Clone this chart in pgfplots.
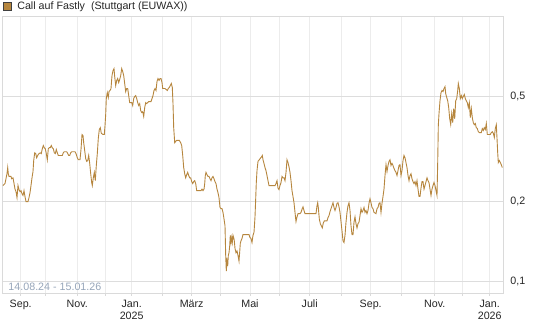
\documentclass[border=0pt]{standalone}
\usepackage{pgfplots}
\pgfplotsset{compat=1.18}
\usepackage{fontspec}
\setmainfont{Liberation Sans}
\definecolor{linec}{RGB}{182,134,62}
\definecolor{framec}{RGB}{218,218,218}
\definecolor{gridx}{RGB}{236,236,236}
\definecolor{gridy}{RGB}{221,221,221}
\definecolor{datec}{RGB}{150,165,185}
\begin{document}
\begin{tikzpicture}
\begin{axis}[
  at={(0,0)}, anchor=south west,
  scale only axis, width=501pt, height=277pt,
  xmin=2.3, xmax=503.3,
  ymode=log, ymin=0.0901, ymax=1.009,
  axis line style={framec, line width=1pt},
  font=\fontsize{10.7}{12.5}\selectfont,
  xtick={20.7,45.7,77.3,105.3,131.7,162.3,191.7,220.7,250,279.3,309.7,341.7,370.7,401.7,434.7,462.7,489.7},
  xticklabels={Sep.,,Nov.,,{Jan.\\2025},,März,,Mai,,Juli,,Sep.,,Nov.,,{Jan.\\2026}},
  xticklabel style={align=center, text=black!85, yshift=-1pt},
  xtick pos=bottom, tick align=outside,
  major tick length=2.5pt,
  xtick style={framec, line width=1pt},
  ytick={0.1,0.2,0.5},
  yticklabels={{0,1},{0,2},{0,5}},
  yticklabel pos=right,
  yticklabel style={text=black!85, xshift=1pt},
  ytick style={draw=none},
  yminorticks=false,
  xmajorgrids, ymajorgrids,
  x grid style={gridx, line width=1pt},
  y grid style={gridy, line width=1pt},
  legend style={at={(axis description cs:0,1)}, anchor=south west, draw=none, fill=none,
    inner sep=0pt, outer sep=0pt, xshift=0.8pt, yshift=3pt, column sep=3.5pt,
    font=\fontsize{10.7}{12.5}\selectfont, text=black!85},
  legend image code/.code={\draw[fill=linec, draw=black!75, line width=0.7pt] (0pt,-4pt) rectangle (8pt,4pt);},
]
\addplot[linec, line width=0.9pt] table {
x y
3 0.230
5 0.234
7 0.255
7.7 0.269
8.3 0.255
9 0.249
11 0.249
11.7 0.244
13 0.246
13.7 0.238
15 0.223
16 0.218
17 0.207
18 0.230
19 0.222
20 0.218
21 0.220
22 0.214
23 0.211
24 0.220
25 0.209
26 0.200
28 0.200
29 0.207
30 0.216
31 0.230
32 0.246
33 0.260
33.7 0.286
34.7 0.306
35.7 0.304
36.7 0.293
37.7 0.299
39 0.304
40.3 0.306
41.3 0.304
42.3 0.317
43.3 0.326
44.3 0.320
45.3 0.317
46.3 0.304
47.3 0.288
48.3 0.317
49.3 0.320
50.3 0.320
51.3 0.326
52.3 0.320
53.3 0.317
54.3 0.306
55.3 0.304
56.3 0.315
57.3 0.306
58.3 0.299
62.3 0.299
63.3 0.306
64.3 0.309
66.7 0.309
67.7 0.304
68.7 0.299
69.7 0.299
70.7 0.306
71.7 0.309
75 0.309
76 0.304
77.3 0.293
78.3 0.288
80 0.288
81 0.315
82 0.359
83 0.356
83.7 0.334
84.7 0.312
85.7 0.291
86.7 0.284
87.7 0.286
88.7 0.299
89.7 0.279
90.7 0.255
91.7 0.236
92.3 0.230
93.3 0.246
94.3 0.258
95.3 0.240
96.3 0.274
97.3 0.304
98.3 0.347
99.3 0.375
100.3 0.381
101.3 0.363
103 0.359
104.3 0.359
105 0.388
105.7 0.428
106.3 0.491
107.3 0.517
108.3 0.496
109 0.522
110 0.527
111 0.536
112 0.600
113 0.627
114 0.638
114.7 0.595
115.7 0.550
116.7 0.575
117.7 0.585
118.7 0.565
119.7 0.580
120.7 0.600
121.7 0.638
122.7 0.622
123.7 0.600
124.7 0.560
125.7 0.522
126.7 0.536
127.7 0.536
128.7 0.504
129.7 0.474
130.7 0.474
131.7 0.474
132.7 0.462
133.7 0.491
134.7 0.500
135.7 0.504
136.7 0.491
137.7 0.474
138.7 0.462
139.7 0.470
140.7 0.442
141.7 0.435
142.7 0.438
143.7 0.420
144.7 0.454
145.7 0.474
146.7 0.470
148.7 0.478
151 0.478
152 0.491
153 0.504
154 0.527
155 0.536
156 0.527
157 0.570
158 0.585
159 0.575
160 0.585
161 0.585
162 0.565
162.7 0.536
164 0.536
165 0.536
166.3 0.531
167.3 0.527
168.3 0.536
169.3 0.541
170.3 0.550
171.3 0.560
172.3 0.541
173 0.470
173.7 0.381
174.7 0.334
175.7 0.338
176.7 0.341
179.3 0.341
180.7 0.334
181.7 0.326
182.7 0.299
183.7 0.269
184.7 0.255
185.7 0.246
186.7 0.253
187.7 0.258
188.7 0.251
189.7 0.246
190.7 0.246
191.7 0.238
192.7 0.234
193.7 0.238
194.7 0.240
195.7 0.234
196.7 0.220
200 0.220
201 0.220
202 0.223
203 0.220
204 0.223
204.7 0.234
205.3 0.251
206 0.258
207 0.253
208 0.249
209 0.249
210 0.244
211 0.240
212 0.246
213 0.249
214 0.244
215 0.238
216 0.234
217 0.223
218 0.216
219 0.207
220 0.190
221 0.188
222 0.188
223 0.182
224 0.172
225 0.162
225.7 0.125
226.3 0.109
227 0.119
227.7 0.114
228.3 0.125
229 0.128
229.7 0.136
230.3 0.149
231 0.140
231.7 0.146
232.3 0.140
233 0.149
233.7 0.146
234.3 0.142
235 0.133
236 0.128
237 0.130
238 0.125
239 0.119
239.7 0.129
240.3 0.139
241 0.142
242 0.145
243 0.150
249 0.150
250 0.146
251 0.145
252 0.140
253 0.149
254 0.153
255 0.175
255.7 0.205
256.3 0.236
257 0.262
258 0.284
259.3 0.288
260.7 0.293
261.7 0.296
262.3 0.299
263 0.288
264 0.279
265 0.269
266 0.262
267 0.251
268 0.240
269 0.230
275 0.230
276 0.234
277 0.240
278 0.225
279 0.222
280 0.230
281 0.236
282 0.249
283 0.246
284 0.246
285 0.240
286 0.258
287 0.288
288 0.281
289 0.271
290 0.258
291 0.240
292 0.220
293 0.209
294 0.198
295 0.182
296 0.168
297 0.175
298 0.180
300 0.180
301 0.182
302 0.187
303 0.191
304 0.185
305 0.180
316 0.180
317 0.193
317.7 0.198
318.3 0.190
319.3 0.172
320.3 0.165
321.3 0.162
322.3 0.159
323.3 0.166
324.3 0.169
327 0.169
328 0.174
329 0.177
330 0.183
331 0.188
332 0.193
333 0.198
334 0.190
335 0.185
336 0.190
337 0.197
338 0.198
339 0.191
340 0.182
341 0.168
342 0.155
343 0.142
344 0.140
345 0.149
346 0.167
347 0.182
348 0.193
349 0.198
350 0.185
351 0.162
352 0.150
353 0.150
354 0.167
355 0.175
356 0.165
357 0.159
358 0.165
359 0.167
360 0.177
361 0.188
362 0.182
363 0.185
364 0.190
365 0.182
366 0.185
367 0.180
368 0.185
369 0.197
370 0.205
371 0.198
372 0.190
373 0.188
374 0.182
376 0.180
377 0.188
378 0.190
379 0.197
380 0.198
381 0.182
382 0.197
383 0.209
384 0.223
385 0.251
386 0.276
387 0.260
388 0.274
389 0.284
390 0.288
391 0.274
392 0.279
393 0.274
394 0.267
395 0.262
396 0.258
397 0.251
398 0.262
399 0.274
400 0.276
401 0.251
402 0.262
403 0.286
404 0.299
405 0.293
406 0.281
407 0.269
408 0.251
409 0.240
410 0.251
411 0.255
412 0.244
413 0.238
414 0.234
415 0.238
416 0.230
417 0.240
418 0.223
419 0.209
420 0.209
421 0.225
422 0.238
423 0.238
424 0.223
425 0.230
426 0.238
427 0.246
428 0.240
429 0.236
430 0.223
431 0.211
432 0.223
433 0.230
434 0.236
435 0.230
436 0.220
437 0.211
437.7 0.281
438.3 0.388
439 0.431
440 0.482
441 0.517
442 0.527
443 0.522
444 0.536
445 0.545
445.7 0.513
446.7 0.496
447.7 0.482
448.7 0.454
449.7 0.412
450.7 0.392
451.7 0.431
452.7 0.398
453.7 0.450
454.7 0.412
455.7 0.482
456.7 0.491
457.7 0.527
458.3 0.560
459.3 0.536
460.3 0.491
461.3 0.504
462.3 0.491
463.3 0.500
464.3 0.509
465.3 0.491
466.3 0.482
467.3 0.474
468.3 0.454
469.3 0.474
470.3 0.416
471.3 0.450
472.3 0.416
473.3 0.398
474.3 0.391
475.3 0.395
476.3 0.381
477.3 0.378
478.3 0.368
479.3 0.365
481.3 0.365
482.3 0.378
483.3 0.372
484.3 0.381
485.3 0.375
486.3 0.395
487.3 0.359
490.3 0.359
491.3 0.365
492.3 0.368
493.3 0.363
494.3 0.350
495.3 0.378
496.3 0.391
497 0.347
497.7 0.306
498.3 0.281
499.3 0.286
500.3 0.281
501.3 0.276
502.3 0.269
};
\addlegendentry{Call auf Fastly\ \ (Stuttgart (EUWAX))}
\node[anchor=base west, text=datec, font=\fontsize{10.7}{12.5}\selectfont, inner sep=0pt] at ([xshift=6pt, yshift=2.5pt]rel axis cs:0,0) {14.08.24 - 15.01.26};
\end{axis}
\pgfresetboundingbox
\path[use as bounding box] (-2.3pt,-34pt) rectangle (542.7pt,293pt);
\end{tikzpicture}
\end{document}
